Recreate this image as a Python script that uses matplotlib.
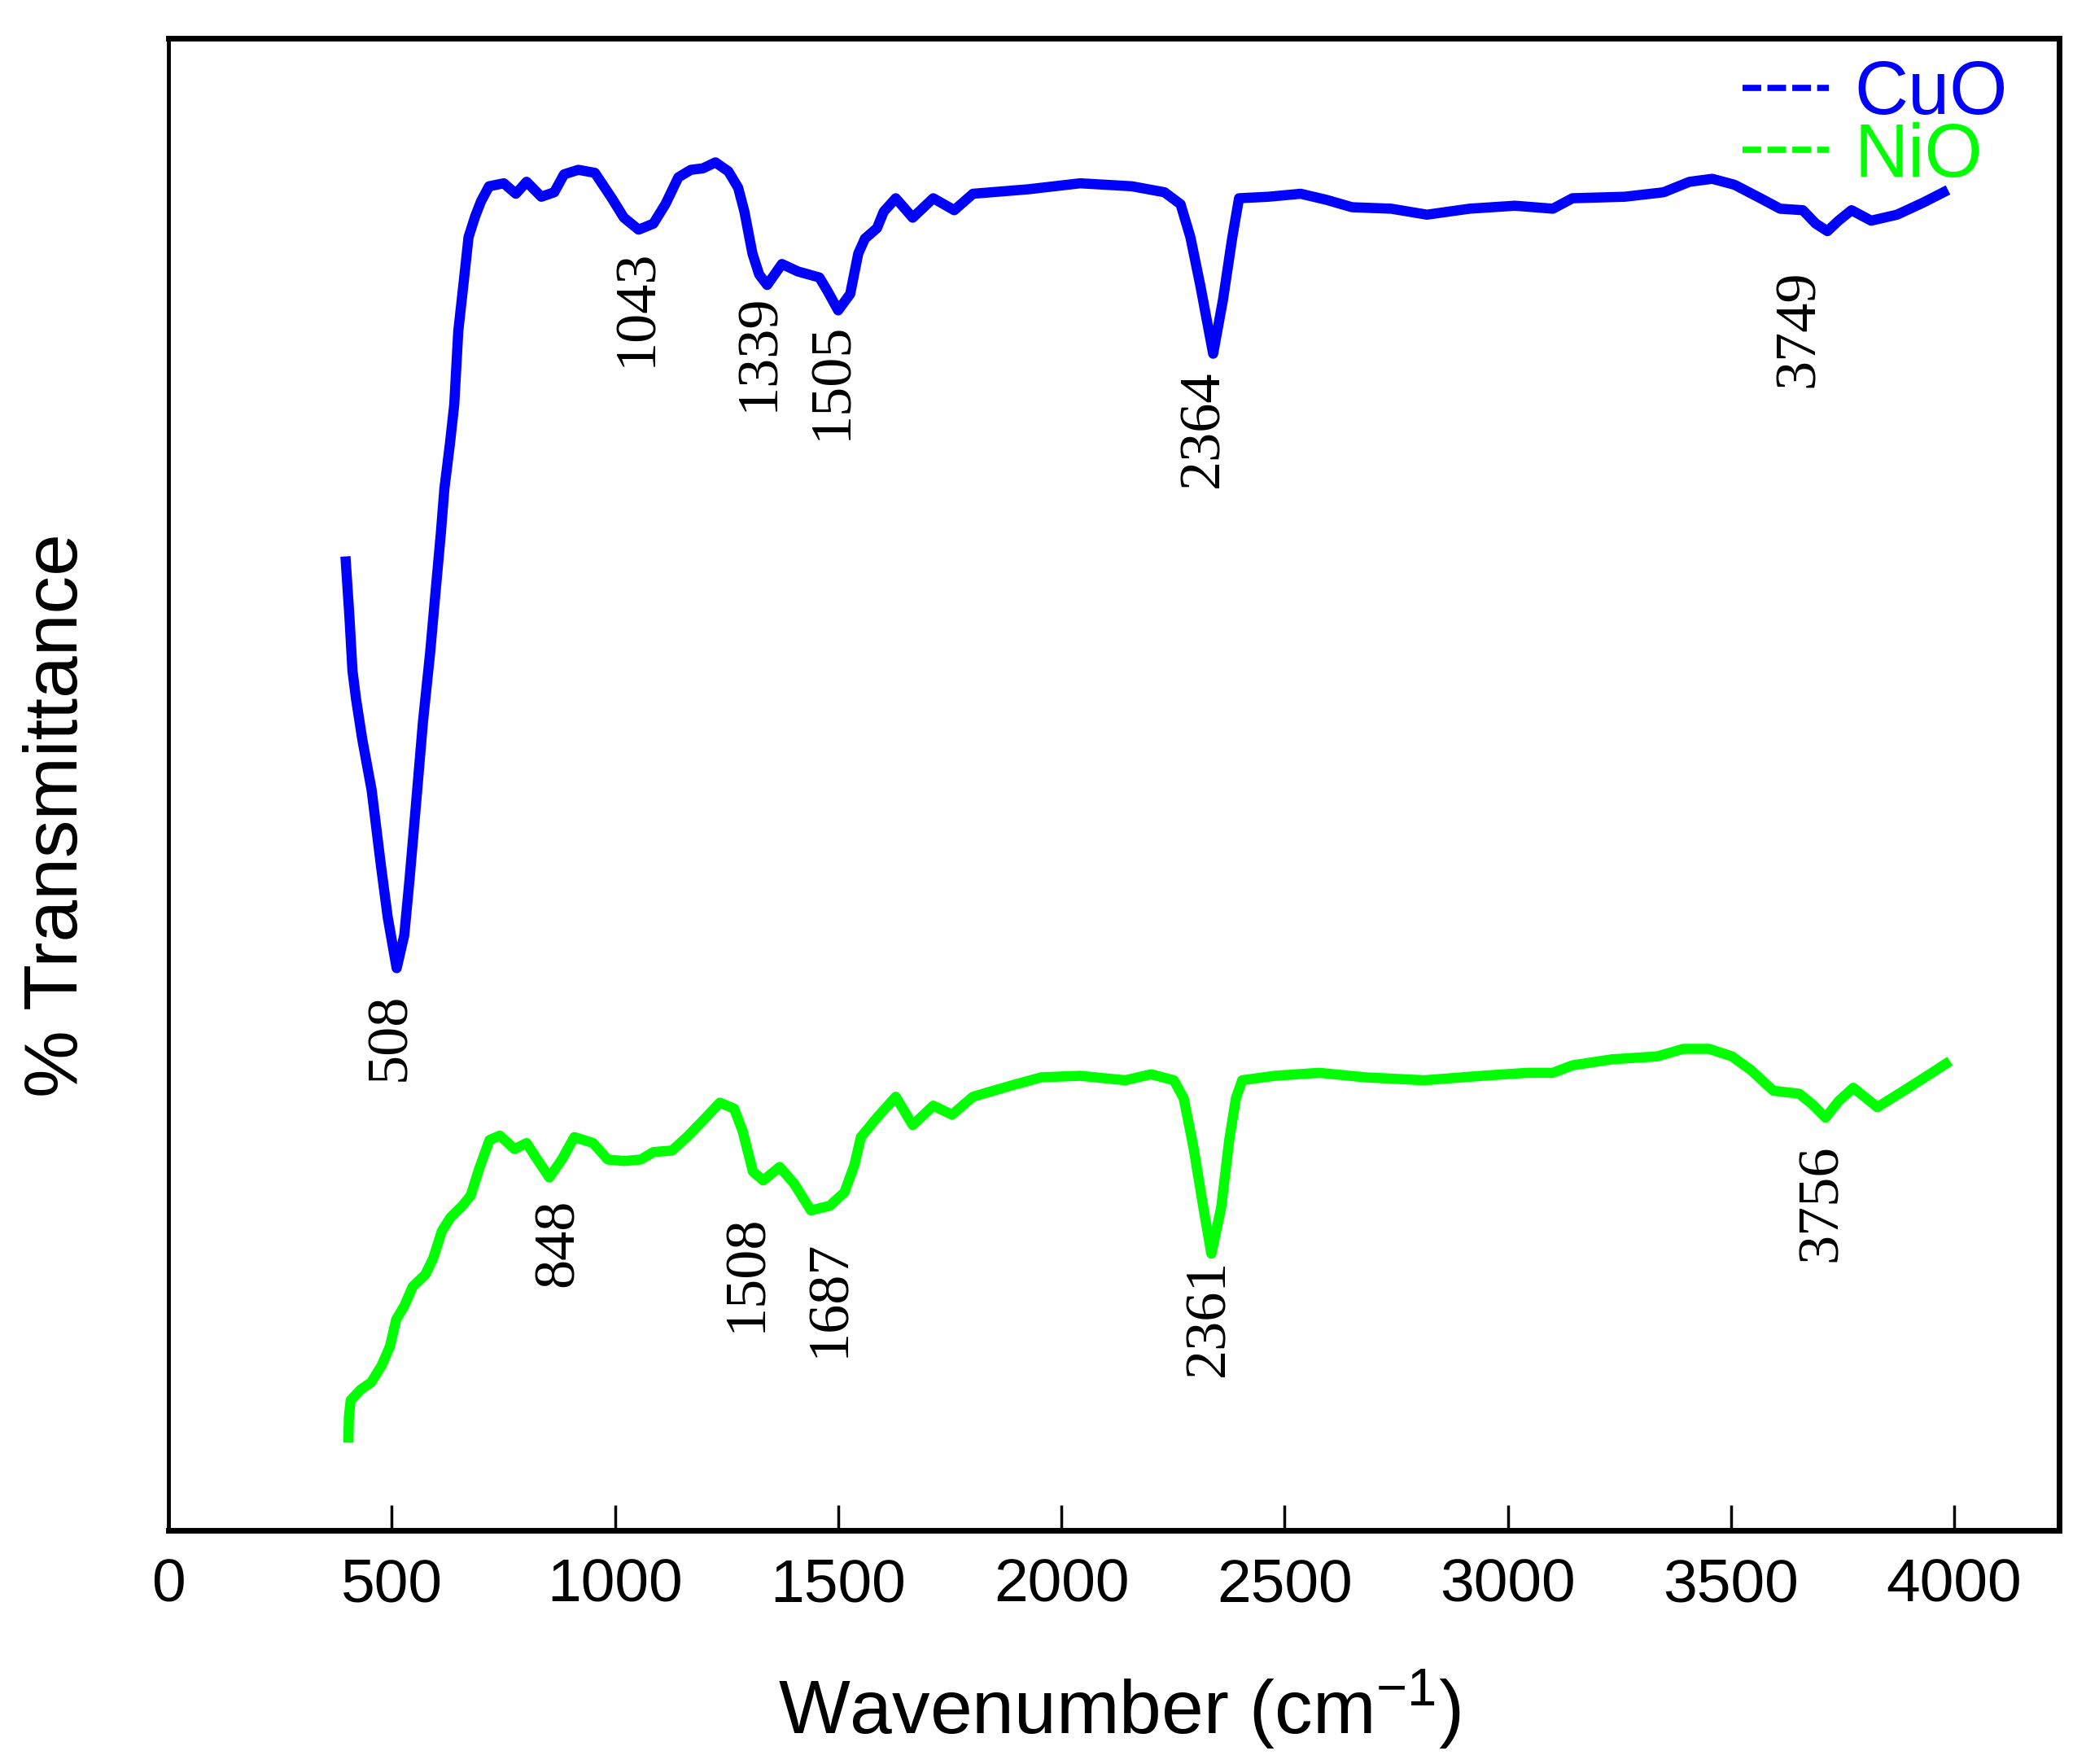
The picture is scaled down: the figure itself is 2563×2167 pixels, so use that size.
import matplotlib
matplotlib.use("Agg")
import matplotlib.pyplot as plt
from matplotlib.lines import Line2D

# FTIR spectra (arbitrary % transmittance scale)
cuo_wn = [397, 405, 412, 420, 434, 455, 476, 491, 511, 528,
          540, 555, 570, 586, 597, 610, 618, 630, 640, 649,
          663, 672, 687, 700, 718, 751, 778, 802, 835, 864,
          886, 918, 955, 993, 1020, 1053, 1086, 1113, 1142, 1170,
          1197, 1225, 1254, 1276, 1290, 1308, 1323, 1341, 1374, 1410,
          1458, 1476, 1500, 1527, 1545, 1560, 1587, 1602, 1629, 1667,
          1713, 1760, 1802, 1926, 2042, 2158, 2231, 2267, 2289, 2311,
          2340, 2362, 2383, 2398, 2464, 2536, 2593, 2651, 2739, 2819,
          2914, 3016, 3101, 3145, 3262, 3349, 3407, 3458, 3508, 3566,
          3610, 3661, 3690, 3716, 3741, 3770, 3814, 3872, 3930, 3976]
cuo_val = [65.0, 61.4, 57.7, 55.8, 53.1, 49.7, 44.6, 41.2, 37.8, 40.0,
           43.8, 49.0, 54.3, 58.9, 62.6, 66.9, 69.9, 72.8, 75.5, 80.4,
           84.2, 86.7, 88.1, 89.1, 90.1, 90.3, 89.6, 90.4, 89.4, 89.7,
           90.9, 91.2, 91.0, 89.3, 88.0, 87.2, 87.6, 88.9, 90.7, 91.2,
           91.3, 91.7, 91.1, 90.0, 88.4, 85.6, 84.2, 83.5, 84.9, 84.4,
           84.0, 83.1, 81.8, 82.9, 85.6, 86.6, 87.3, 88.4, 89.3, 88.0,
           89.3, 88.5, 89.6, 89.9, 90.3, 90.1, 89.7, 88.9, 86.7, 83.5,
           78.9, 82.5, 86.7, 89.3, 89.4, 89.6, 89.2, 88.7, 88.6, 88.2,
           88.6, 88.8, 88.6, 89.3, 89.4, 89.7, 90.4, 90.6, 90.2, 89.3,
           88.6, 88.5, 87.6, 87.1, 87.8, 88.5, 87.8, 88.2, 89.0, 89.7]

nio_wn = [403, 404, 408, 430, 454, 477, 496, 510, 528, 547,
          575, 593, 612, 631, 658, 677, 696, 719, 742, 775,
          802, 826, 853, 881, 909, 951, 984, 1021, 1058, 1086,
          1128, 1161, 1197, 1235, 1267, 1286, 1309, 1332, 1369, 1401,
          1439, 1481, 1514, 1536, 1551, 1587, 1629, 1667, 1713, 1755,
          1802, 1882, 1955, 2042, 2143, 2201, 2252, 2274, 2296, 2318,
          2336, 2358, 2376, 2391, 2405, 2478, 2578, 2680, 2812, 2943,
          3044, 3101, 3145, 3233, 3335, 3393, 3451, 3502, 3544, 3595,
          3653, 3682, 3712, 3741, 3774, 3828, 3887, 3945, 3981]
nio_val = [6.4, 7.8, 8.9, 9.6, 10.1, 11.2, 12.5, 14.3, 15.2, 16.5,
           17.3, 18.4, 20.2, 21.1, 21.9, 22.6, 24.4, 26.3, 26.6, 25.7,
           26.1, 25.0, 23.8, 25.0, 26.5, 26.1, 25.0, 24.9, 25.0, 25.5,
           25.6, 26.5, 27.6, 28.8, 28.4, 26.9, 24.2, 23.6, 24.5, 23.4,
           21.6, 21.9, 22.8, 24.6, 26.5, 27.8, 29.2, 27.3, 28.6, 28.0,
           29.2, 29.9, 30.5, 30.6, 30.3, 30.7, 30.3, 29.1, 25.8, 21.8,
           18.7, 21.8, 26.3, 29.1, 30.3, 30.6, 30.8, 30.5, 30.3, 30.6,
           30.8, 30.8, 31.3, 31.7, 31.9, 32.4, 32.4, 31.9, 31.0, 29.6,
           29.4, 28.7, 27.8, 28.9, 29.8, 28.5, 29.6, 30.7, 31.4]

# peak annotations: text, x, y
cuo_peaks = ["508", "1043", "1339", "1505", "2364", "3749"]
cuo_peak_x = [497, 1050, 1323, 1487, 2318, 3653]
cuo_peak_y = [33.2, 82.0, 79.0, 77.1, 73.9, 80.6]
nio_peaks = ["848", "1508", "1687", "2361", "3756"]
nio_peak_x = [873, 1296, 1481, 2332, 3704]
nio_peak_y = [19.4, 17.4, 15.7, 14.4, 22.1]

x_ticks = [0, 500, 1000, 1500, 2000, 2500, 3000, 3500, 4000]

plt.rcParams['font.family'] = ['Liberation Sans', 'DejaVu Sans']
plt.rcParams['mathtext.default'] = 'regular'

fig = plt.figure(figsize=(25.63, 21.67), dpi=100)
ax = fig.add_axes([0.0808, 0.1325, 0.9063, 0.8458])

blue = '#0000FF'
green = '#00FF00'
ax.plot(cuo_wn, cuo_val, color=blue, lw=9)
ax.plot(nio_wn, nio_val, color=green, lw=9)

for txt, x, y in zip(cuo_peaks + nio_peaks, cuo_peak_x + nio_peak_x, cuo_peak_y + nio_peak_y):
    ax.text(x, y, txt, rotation=90, ha='center', va='center',
            fontsize=52, family='Liberation Serif')

ax.set_xlim(0, 4235)
ax.set_ylim(0.2, 100)
ax.set_xticks(x_ticks)
ax.set_yticks([])
ax.tick_params(axis='x', direction='in', length=22, width=2.5, pad=24, labelsize=54)

for side in ['top', 'right', 'bottom']:
    ax.spines[side].set_linewidth(5)
ax.spines['left'].set_linewidth(3.5)

ax.set_xlabel(r'Wavenumber (cm$^{-1}$)', fontsize=67)
ax.xaxis.set_label_coords(0.503, -0.092)
ax.set_ylabel('% Transmittance', fontsize=67)
ax.yaxis.set_label_coords(-0.040, 0.479)

handles = [Line2D([], [], color=blue, lw=5.5, ls=(0, (3, 1))),
           Line2D([], [], color=green, lw=5.5, ls=(0, (3, 1)))]
ax.legend(handles, ['CuO', 'NiO'], loc='upper right', bbox_to_anchor=(0.973, 0.986),
          frameon=False, fontsize=66, handlelength=1.15, handletextpad=0.35,
          labelspacing=-0.1, borderpad=0, borderaxespad=0,
          labelcolor=[blue, green])

fig.savefig('out.png', dpi=100)
